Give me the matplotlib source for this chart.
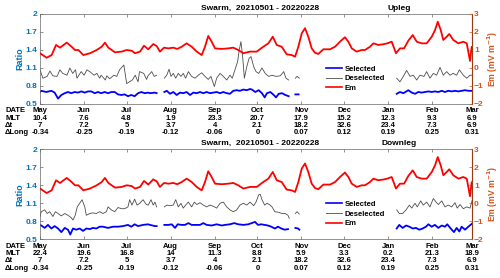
import numpy as np
import pandas as pd
import matplotlib
matplotlib.use("Agg")
import matplotlib.pyplot as plt
from matplotlib.lines import Line2D

plt.rcParams["font.family"] = ["Liberation Sans", "DejaVu Sans"]
plt.rcParams["font.weight"] = "bold"
plt.rcParams["mathtext.default"] = "bf"

nan = np.nan

# Em (same in both panels), days since 2021-05-01
em_days = [0, 4.7, 8.2, 11.3, 14.1, 18.8, 22.3, 24.6, 27, 30.5,
           35.2, 39.9, 43.4, 45.7, 48.1, 52.8, 57.5, 61, 64.5, 66.9,
           70.4, 73.2, 76.2, 79.7, 82.1, 84.4, 87.3, 90.3, 93.8, 96.6,
           99.7, 103.2, 106.8, 110.3, 113.8, 116.1, 118.4, 120.8, 123.2, 127.9,
           132.5, 136, 139.5, 143.1, 147.8, 152.5, 157.1, 160.7, 163.8, 166.6,
           170.1, 173.6, 177.1, 179.5, 181.8, 184.2, 186.5, 188.8, 191.2, 193.5,
           195.8, 199.4, 204.1, 207.6, 211.1, 214.6, 217, 219.4, 222.9, 226.4,
           228.7, 232.2, 234.6, 238.1, 241.6, 244.4, 247.5, 250.5, 253.3, 256.2,
           259.2, 262.3, 265.1, 268.6, 272.1, 275.7, 278, 279.9, 282, 283.8,
           286.2, 288, 290.8, 294.4, 297.9, 300.3, 301.4, 302.6, 303.8, 304.5]
em_vals = [0.82, 0.57, 0.72, 1.28, 1.13, 1.41, 1.18, 1.0, 1.0, 0.72,
           0.82, 1.0, 1.18, 1.41, 1.13, 0.87, 0.91, 1.0, 0.96, 0.82,
           0.91, 1.24, 1.04, 1.33, 1.22, 0.91, 1.13, 1.09, 1.13, 1.06,
           1.18, 1.37, 1.18, 0.91, 0.72, 1.18, 1.78, 1.46, 1.09, 1.06,
           1.09, 1.13, 1.0, 0.82, 0.91, 0.91, 1.18, 1.37, 1.74, 1.28,
           1.18, 0.76, 0.72, 0.63, 1.18, 1.93, 2.21, 1.74, 1.09, 0.85,
           0.78, 1.04, 1.04, 1.18, 1.46, 1.71, 1.46, 1.09, 0.91, 1.0,
           1.0, 1.18, 1.37, 1.28, 1.32, 1.37, 1.46, 0.82, 1.09, 1.09,
           1.52, 1.83, 1.46, 1.37, 1.37, 1.74, 2.11, 2.57, 2.11, 1.56,
           1.74, 1.89, 1.56, 1.37, 1.46, 1.37, 0.91, 0.39, 1.18, 1.0]

# Upleg
up_sel_days = [0, 0.9, 4.4, 8, 10.3, 12.7, 15, 17.4, 19.7, 22,
               24.4, 26.7, 29.1, 31.5, 33.8, 36.1, 38.5, 40.8, 43.1, 45.5,
               47.9, 50.2, 52.6, 54.9, 57.2, 59.6, 61.9, 64.2, 66.6, 69,
               71.3, 73.7, 76, 77.4, 80.9, 82.1, nan,
               87.5, 89.2, 91.5, 93.8, 96.2, 98.5, 100.8, 103.2, 105.6, 107.9,
               110.3, 112.6, 114.9, 117.3, 119.6, 122, 124.3, 126.7, 129, 131.4,
               133.7, 136, 138.4, 140.7, 143.1, 145.5, 147.8,
               149.2, 151.5, 153.9, 156.2, 158.1, 159.7, 162.1, 164.5, 166.1, 168,
               170.3, 172.6, 175, nan, 179.7, 182, nan,
               251, 253.3, 255.7, 259.2, 261.6, 263.9, 266.2, 268.6, 270.9, 273.3,
               275.6, 277.9, 280.3, 282.7, 285, 287.3, 289.7, 292, 294.4, 296.7,
               299.1, 301.4, 304.5]
up_sel = [0.70, 0.72, 0.70, 0.72, 0.69, 0.59, 0.65, 0.68, 0.70, 0.68,
          0.70, 0.69, 0.71, 0.69, 0.71, 0.71, 0.68, 0.70, 0.68, 0.70,
          0.68, 0.70, 0.70, 0.66, 0.65, 0.66, 0.63, 0.65, 0.63, 0.68,
          0.70, 0.68, 0.69, 0.68, 0.69, 0.68, nan,
          0.70, 0.72, 0.67, 0.70, 0.65, 0.69, 0.68, 0.70, 0.65, 0.69,
          0.68, 0.70, 0.68, 0.70, 0.68, 0.69, 0.70, 0.68, 0.70, 0.68,
          0.67, 0.72, 0.73, 0.72, 0.74, 0.73, 0.75,
          0.74, 0.70, 0.73, 0.68, 0.61, 0.68, 0.70, 0.65, 0.61, 0.67,
          0.68, 0.65, 0.63, nan, 0.66, 0.66, nan,
          0.67, 0.70, 0.68, 0.73, 0.69, 0.67, 0.70, 0.69, 0.70, 0.71,
          0.70, 0.71, 0.70, 0.72, 0.70, 0.72, 0.71, 0.72, 0.71, 0.72,
          0.73, 0.72, 0.72]
up_des_days = [0, 2, 5, 7, 9, 12, 14, 16, 19, 21,
               23, 25, 26, 29, 31, 33, 35, 38, 40, 42,
               43, 46, 47, 49, 52, 54, 56, 59, 61, 63,
               65, 67, 69, 70, 73, 75, 76, 78.6, 80.4, 82.1, nan,
               87.5, 89.2, 90.8, 92.2, 93.8, 95.5, 97.3, 99.2, 100.8, 102.5,
               104.4, 106.7, 109.1, 111.4, 113.8, 116.1, 118.4, 120.3, 122.7, 124.3,
               126.7, 129, 131.4, 133.7, 135.3, 137.2, 139.1, 140.2, 141.4, 142.6,
               143.8, 145.5, 147.1, 148.5, 150.4, 152, 153.9, 156.2, 158.5, 160.9,
               163.3, 166.1, 169.1, 171.5, 173.1, 175, nan,
               179.7, 180.9, 182.5, nan,
               251, 253.3, 255.7, 258, 260.4, 262.7, 265.1, 267.4, 270.2, 272.1,
               274.4, 276.8, 279.1, 281.5, 283.8, 286.2, 288.5, 290.8, 293.2, 295.1,
               297.9, 300.3, 302.6, 304.5]
up_des = [1.07, 0.93, 0.96, 1.05, 0.97, 0.96, 1.07, 1.01, 0.98, 1.10,
          1.01, 1.07, 0.93, 1.04, 0.98, 1.07, 1.04, 0.98, 1.01, 0.93,
          0.98, 0.90, 0.97, 0.92, 0.98, 0.96, 1.07, 1.15, 0.84, 0.87,
          0.90, 0.98, 0.87, 1.04, 1.01, 0.91, 0.97, 1.04, 0.96, 0.98, nan,
          0.93, 0.98, 1.08, 0.96, 1.01, 0.93, 1.01, 0.96, 1.01, 0.93,
          1.04, 0.96, 0.93, 0.98, 1.02, 0.96, 0.91, 0.96, 0.79, 0.93,
          1.01, 0.96, 0.90, 0.98, 0.93, 1.07, 1.21, 1.40, 1.54, 1.29,
          0.93, 1.12, 1.26, 1.29, 1.12, 1.04, 1.01, 1.10, 1.01, 0.96,
          0.98, 0.96, 0.97, 1.04, 0.93, 0.90, nan,
          0.93, 0.96, 0.93, nan,
          0.93, 0.87, 0.96, 1.06, 0.96, 0.98, 0.90, 0.98, 0.96, 1.04,
          0.93, 1.01, 0.98, 1.11, 0.98, 1.04, 0.98, 1.01, 0.98, 1.07,
          0.98, 0.93, 0.98, 0.98]

# Downleg
dn_sel_days = [0, 0.9, 3.3, 5.6, 8, 10.3, 12.7, 15, 17.4, 19.7,
               21.3, 23.2, 25.5, 27.9, 30.3, 32.6, 35, 37.3, 39.6, 42,
               44.3, 47.9, 51.4, 54.9, 58.4, 61.9, 64.2, 66.6, 69, 72.5,
               76, 77.4, 80.9, 82.1, nan,
               87.5, 90.3, 92.7, 95, 96.9, 99.7, 102, 104.4, 106.7, 109.1,
               112.6, 114.9, 117.3, 120.8, 124.3, 127.9, 130.2, 133.7, 136.7, 139.5,
               143.1, 146.6, 149, 151.3, 153.4, 155.7, 158.1, 160.4, 162.8, 165.2,
               167.5, 169.8, 172.2, 174.5, nan,
               179.7, 181.6, 182.5, nan,
               251, 252.8, 255.2, 257.6, 259.9, 262.3, 264.6, 266.9, 269.3, 271.6,
               273.3, 275.6, 277.9, 280.3, 282.7, 285, 286.6, 289, 291.3, 293.2,
               295.1, 296.7, 299.1, 301.4, 304.5]
dn_sel = [0.74, 0.73, 0.69, 0.74, 0.68, 0.72, 0.68, 0.62, 0.69, 0.66,
          0.58, 0.68, 0.66, 0.68, 0.64, 0.68, 0.67, 0.69, 0.68, 0.71,
          0.71, 0.69, 0.71, 0.71, 0.72, 0.74, 0.71, 0.75, 0.72, 0.74,
          0.75, 0.74, 0.72, 0.72, nan,
          0.74, 0.74, 0.75, 0.69, 0.75, 0.74, 0.74, 0.77, 0.74, 0.74,
          0.74, 0.77, 0.74, 0.73, 0.75, 0.73, 0.74, 0.75, 0.77, 0.75,
          0.74, 0.75, 0.77, 0.79, 0.74, 0.75, 0.74, 0.73, 0.71, 0.68,
          0.71, 0.68, 0.66, 0.67, nan,
          0.69, 0.68, 0.66, nan,
          0.68, 0.74, 0.69, 0.73, 0.71, 0.68, 0.69, 0.66, 0.68, 0.71,
          0.75, 0.71, 0.74, 0.69, 0.73, 0.71, 0.75, 0.68, 0.62, 0.69,
          0.63, 0.71, 0.66, 0.71, 0.77]
dn_des_days = [0, 0.9, 3.3, 5.1, 6.8, 9.1, 10.8, 12.7, 15, 17.4,
               19.7, 22, 23.2, 24.8, 26.2, 27.9, 29.6, 31.5, 32.6, 35,
               37.3, 39.6, 42, 44.3, 46.7, 47.9, 50.2, 52.6, 54.9, 57.2,
               59.6, 61.9, 63.1, 64.7, 66.6, 68.3, 70.2, 72.5, 74.8, 76.2,
               78.1, 79.7, 80.9, 82.1, nan,
               87.5, 89.2, 91.5, 93.8, 95.5, 97.3, 99.2, 100.8, 102.5, 104.4,
               106.7, 108.6, 110.3, 112.6, 114.9, 117.3, 119.6, 122, 124.3, 126.7,
               129, 131.4, 133.7, 136, 138.4, 140.7, 143.1, 145.5, 147.8, 150.4,
               152, 153.9, 155, 156.2, 158.1, 159.7, 161.4, 163.3, 165.2, 168,
               170.3, 172.6, 174.5, 175.4, nan,
               179.7, 180.9, 182.5, nan,
               251, 252.8, 255.2, 257.6, 259.9, 261.6, 263.9, 265.5, 267.9, 269.7,
               272.1, 274.4, 276.8, 278.7, 280.3, 282.7, 285, 287.3, 289.7, 292,
               293.6, 295.6, 297.9, 300.3, 302.6, 304.5]
dn_des = [0.88, 0.96, 0.99, 0.93, 0.96, 0.88, 0.96, 0.93, 0.89, 0.93,
          0.90, 0.86, 0.82, 0.90, 1.04, 1.10, 1.16, 1.04, 0.90, 0.93,
          0.94, 0.93, 0.96, 0.93, 0.96, 1.04, 0.99, 0.96, 1.03, 1.01,
          1.01, 1.04, 1.16, 1.07, 1.17, 1.07, 1.10, 1.16, 1.08, 1.07,
          1.16, 1.07, 1.12, 1.04, nan,
          1.04, 1.07, 1.06, 1.07, 1.16, 1.04, 1.10, 1.02, 1.07, 1.12,
          1.04, 1.12, 1.08, 1.11, 1.07, 1.04, 1.07, 1.05, 1.02, 1.10,
          1.12, 1.04, 0.99, 0.96, 0.99, 1.07, 1.10, 1.07, 1.12, 1.06,
          1.12, 1.24, 1.25, 1.16, 1.07, 1.10, 1.08, 1.04, 0.96, 0.95,
          0.93, 0.93, 0.90, 0.85, nan,
          0.93, 0.96, 0.92, nan,
          0.99, 0.93, 0.93, 0.99, 1.07, 1.02, 1.10, 1.04, 1.14, 1.07,
          1.12, 1.04, 1.18, 1.12, 1.08, 1.14, 1.04, 1.07, 1.04, 1.11,
          1.02, 1.08, 1.01, 1.04, 1.02, 1.18]

# table under each panel
up_mlt = ["10.4", "7.6", "4.8", "1.9", "23.3", "20.7", "17.9", "15.2", "12.3", "9.3", "6.9"]
dn_mlt = ["22.4", "19.6", "16.8", "14", "11.3", "8.8", "5.9", "3.3", "0.2", "21.3", "18.9"]
dt_vals = ["7", "7.2", "5", "3.7", "4", "2.1", "18.2", "32.6", "23.4", "7.3", "6.9"]
dlong_vals = ["-0.34", "-0.25", "-0.19", "-0.12", "-0.06", "0", "0.07", "0.12", "0.19", "0.25", "0.31"]

months = pd.date_range("2021-05-01", "2022-03-01", freq="MS")
month_days = (months - months[0]).days
month_names = [m.strftime("%b") for m in months]

ratio_ticks = [0.5, 0.8, 1.1, 1.4, 1.7, 2]
em_ticks = [-2, -1, 0, 1, 2, 3]

BLUE_TXT = "#0072BD"
ORANGE = "#D95319"
W, H = 500, 278

fig = plt.figure(figsize=(5, 2.78), dpi=100)


def panel(top_px, sel_d, sel_v, des_d, des_v, mlt, leg):
    ax = fig.add_axes([40 / W, 1 - (top_px + 90) / H, 432 / W, 90 / H])
    ax.plot(sel_d, sel_v, color="blue", lw=1.3)
    ax.plot(des_d, des_v, color="0.3", lw=0.6)
    ax.set_xlim(0, 304)
    ax.set_ylim(0.5, 2)
    ax.set_yticks(ratio_ticks)
    ax.set_yticklabels([f"{t:g}" for t in ratio_ticks])
    ax.set_xticks(month_days)
    ax.tick_params(axis="x", direction="in", top=True, length=2, width=0.5,
                   labelbottom=False, color="0.4")
    ax.tick_params(axis="y", direction="in", length=2, width=0.5,
                   labelsize=6, labelcolor=BLUE_TXT, pad=2, color="0.4")
    for s in ["left", "top", "bottom"]:
        ax.spines[s].set_color("0.4")
        ax.spines[s].set_linewidth(0.5)

    ax2 = ax.twinx()
    ax2.plot(em_days, em_vals, color="red", lw=1.3)
    ax2.set_ylim(-2, 3)
    ax2.set_yticks(em_ticks)
    ax2.tick_params(axis="y", direction="in", length=2, width=0.5,
                    labelsize=6, labelcolor=ORANGE, color=ORANGE, pad=1.5)
    ax2.spines["right"].set_color(ORANGE)
    ax2.spines["right"].set_linewidth(0.5)
    for s in ["left", "top", "bottom"]:
        ax2.spines[s].set_visible(False)

    # table rows below the axis
    tr = ax.get_xaxis_transform()
    rows = [month_names, mlt, dt_vals, dlong_vals]
    names = ["DATE", "MLT", "\u0394t", "\u0394Long"]
    offs = [6.7, 14.0, 21.3, 28.7]
    for vals, name, off in zip(rows, names, offs):
        yf = -off / 90
        for d, v in zip(month_days, vals):
            ax.text(d, yf, v, transform=tr, ha="center", va="center", fontsize=5.5)
        fig.text(5 / W, 1 - (top_px + 90 + off) / H, name, ha="left",
                 va="center", fontsize=5.5)

    fig.text(20 / W, 1 - (top_px + 45) / H, "Ratio", rotation=90, ha="center",
             va="center", color=BLUE_TXT, fontsize=6.5)
    fig.text(493 / W, 1 - (top_px + 45) / H, r"Em (mV m$^{-1}$)", rotation=90,
             ha="center", va="center", color=ORANGE, fontsize=6.2)
    fig.text(260 / W, 1 - (top_px - 6) / H, "Swarm,  20210501 - 20220228",
             ha="center", va="center", fontsize=6)
    fig.text(399 / W, 1 - (top_px - 6) / H, leg, ha="center", va="center",
             fontsize=6)

    handles = [Line2D([], [], color="blue", lw=1.2),
               Line2D([], [], color="0.3", lw=0.6),
               Line2D([], [], color="red", lw=1.2)]
    ax2.legend(handles, ["Selected", "Deselected", "Em"], loc="upper left",
               bbox_to_anchor=(0.663, 0.43), frameon=False, fontsize=5.5,
               handlelength=2.0, handletextpad=0.4, labelspacing=0.3,
               borderpad=0, borderaxespad=0)


panel(14, up_sel_days, up_sel, up_des_days, up_des, up_mlt, "Upleg")
panel(149.3, dn_sel_days, dn_sel, dn_des_days, dn_des, dn_mlt, "Downleg")

fig.savefig("out.png", dpi=100)
